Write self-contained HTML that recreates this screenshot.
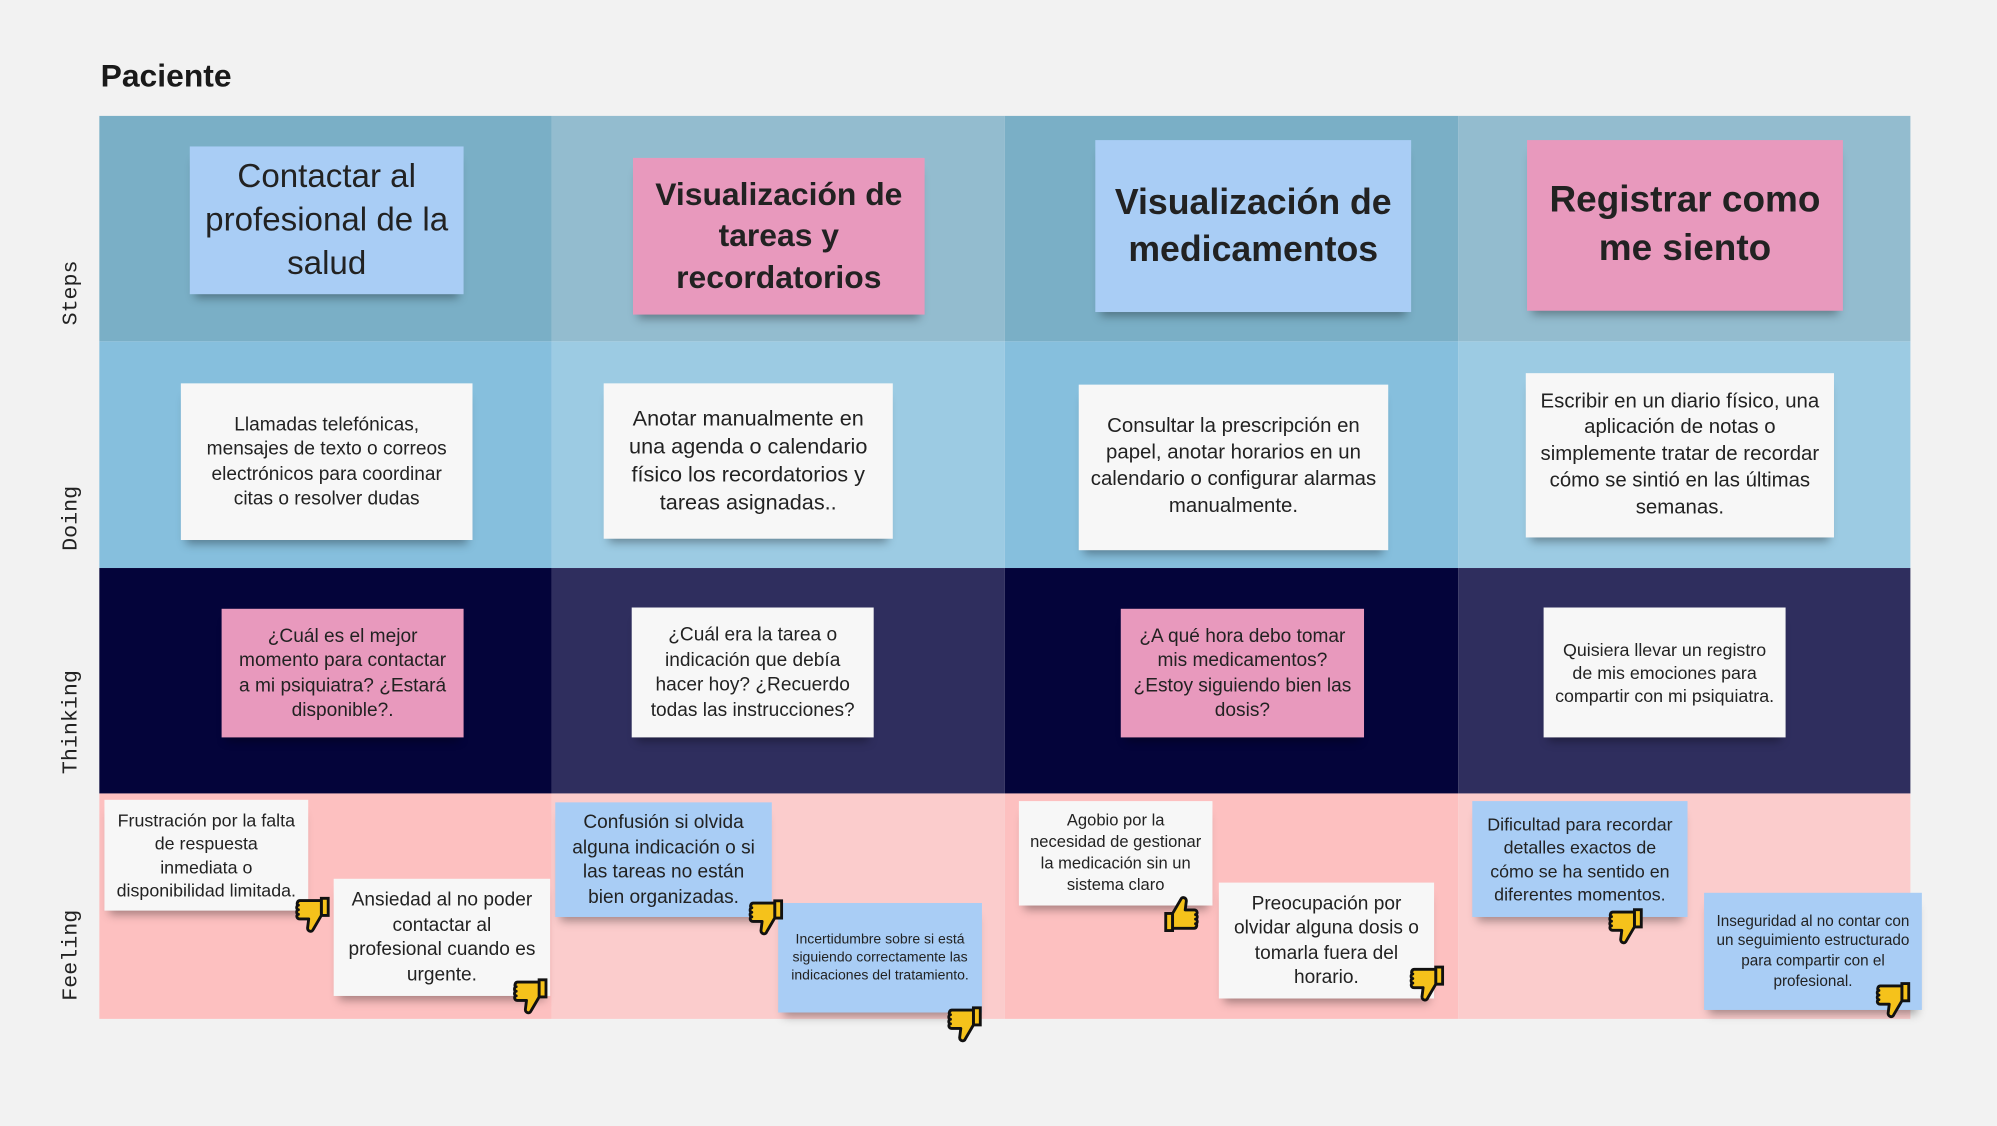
<!DOCTYPE html>
<html><head><meta charset="utf-8">
<style>
html,body{margin:0;padding:0;background:#f2f2f2;width:1997px;height:1126px;overflow:hidden}
#wrap{position:absolute;left:0;top:0;width:1568px;height:884px;transform:scale(1.2736);transform-origin:0 0;font-family:"Liberation Sans",sans-serif}
.cell{position:absolute}
.lbl{position:absolute;font-family:"Liberation Mono",monospace;font-size:17px;color:#222;transform:rotate(-90deg);transform-origin:center;white-space:nowrap;width:120px;height:20px;line-height:20px;text-align:center}
.st{position:absolute;display:flex;align-items:center;justify-content:center;text-align:center;box-sizing:border-box;padding:4px 8px;color:#222;box-shadow:0 7px 7px -4px rgba(0,0,0,.35);line-height:1.3}
.th{position:absolute;width:36px;height:38px}
</style></head><body>
<div id="wrap">
<div style="position:absolute;left:79px;top:46px;font-size:25px;font-weight:bold;color:#1a1a1a">Paciente</div>
</div>
<svg width="0" height="0" style="position:absolute">
<defs>
<g id="tup"><path d="M7 18 h6 v15 h-6 z" fill="#f5c21b" stroke="#111" stroke-width="2.5"/><path d="M13 18 l7-12 c1-3 5-2 5 1 l-1 8 h8 c3 0 3 4 1 4 c2 0 2 4 0 4 c2 0 2 4 0 4 c2 0 1 4-1 4 h-19 z" fill="#f5c21b" stroke="#111" stroke-width="2.5" stroke-linejoin="round"/></g>
</defs></svg>
<script>
const rows=[{n:'Steps',y:91,h:177,lc:230,c:['#7aafc6','#93bccf','#7aafc6','#93bccf']},
{n:'Doing',y:268,h:178,lc:407,c:['#86bfdd','#9ccbe3','#86bfdd','#9ccbe3']},
{n:'Thinking',y:446,h:177,lc:567,c:['#04043a','#2f2e5e','#04043a','#2f2e5e']},
{n:'Feeling',y:623,h:177,lc:750,c:['#fdc0c0','#fbcccc','#fdc0c0','#fbcccc']}];
const colX=[78,433,789,1145,1500];
const wrap=document.getElementById('wrap');
rows.forEach((r,i)=>{
 for(let j=0;j<4;j++){const d=document.createElement('div');d.className='cell';
 d.style.cssText=`left:${colX[j]}px;top:${r.y}px;width:${colX[j+1]-colX[j]}px;height:${r.h}px;background:${r.c[j]}`;
 
 
 wrap.appendChild(d);}
 const l=document.createElement('div');l.className='lbl';l.textContent=r.n;
 l.style.left=(57-60)+'px';l.style.top=(r.lc-10)+'px';
 
 
 wrap.appendChild(l);
});
const B='#a9cdf5',P='#e899bd',W='#f7f7f7';
const notes=[
[149,115,215,116,B,26,'normal','Contactar al profesional de la salud'],
[497,124,229,123,P,25,'bold','Visualización de tareas y recordatorios'],
[860,110,248,135,B,28,'bold','Visualización de medicamentos'],
[1199,110,248,134,P,29,'bold','Registrar como me siento'],
[142,301,229,123,W,15,'normal','Llamadas telefónicas, mensajes de texto o correos electrónicos para coordinar citas o resolver dudas'],
[474,301,227,122,W,17,'normal','Anotar manualmente en una agenda o calendario físico los recordatorios y tareas asignadas..'],
[847,302,243,130,W,16,'normal','Consultar la prescripción en papel, anotar horarios en un calendario o configurar alarmas manualmente.'],
[1198,293,242,129,W,16,'normal','Escribir en un diario físico, una aplicación de notas o simplemente tratar de recordar cómo se sintió en las últimas semanas.'],
[174,478,190,101,P,15,'normal','¿Cuál es el mejor momento para contactar a mi psiquiatra? ¿Estará disponible?.'],
[496,477,190,102,W,15,'normal','¿Cuál era la tarea o indicación que debía hacer hoy? ¿Recuerdo todas las instrucciones?'],
[880,478,191,101,P,15,'normal','¿A qué hora debo tomar mis medicamentos? ¿Estoy siguiendo bien las dosis?'],
[1212,477,190,102,W,14,'normal','Quisiera llevar un registro de mis emociones para compartir con mi psiquiatra.'],
[82,628,160,87,W,14,'normal','Frustración por la falta de respuesta inmediata o disponibilidad limitada.'],
[262,690,170,92,W,15,'normal','Ansiedad al no poder contactar al profesional cuando es urgente.'],
[436,630,170,90,B,15,'normal','Confusión si olvida alguna indicación o si las tareas no están bien organizadas.'],
[611,709,160,86,B,11,'normal','Incertidumbre sobre si está siguiendo correctamente las indicaciones del tratamiento.'],
[800,629,152,82,W,13,'normal','Agobio por la necesidad de gestionar la medicación sin un sistema claro'],
[957,693,169,91,W,15,'normal','Preocupación por olvidar alguna dosis o tomarla fuera del horario.'],
[1156,629,169,91,B,14,'normal','Dificultad para recordar detalles exactos de cómo se ha sentido en diferentes momentos.'],
[1338,701,171,92,B,12,'normal','Inseguridad al no contar con un seguimiento estructurado para compartir con el profesional.']];
notes.forEach((n,i)=>{const d=document.createElement('div');d.className='st';
 d.style.cssText=`left:${n[0]}px;top:${n[1]}px;width:${n[2]}px;height:${n[3]}px;background:${n[4]};font-size:${n[5]}px;font-weight:${n[6]}`;
 d.textContent=n[7];
 
 
 wrap.appendChild(d);});
const thumbs=[[228,698,0],[399,762,0],[584,700,0],[740,784,0],[909,700,1],[1103,752,0],[1259,707,0],[1469,765,0]];
thumbs.forEach((t,i)=>{const s=document.createElementNS('http://www.w3.org/2000/svg','svg');
 s.setAttribute('class','th');s.setAttribute('viewBox','0 0 40 40');
 s.style.left=t[0]+'px';s.style.top=t[1]+'px';
 s.innerHTML=t[2]?'<use href="#tup"/>':'<g transform="translate(40,40) rotate(180)"><use href="#tup"/></g>';
 
 
 wrap.appendChild(s);});
</script>
</body></html>
